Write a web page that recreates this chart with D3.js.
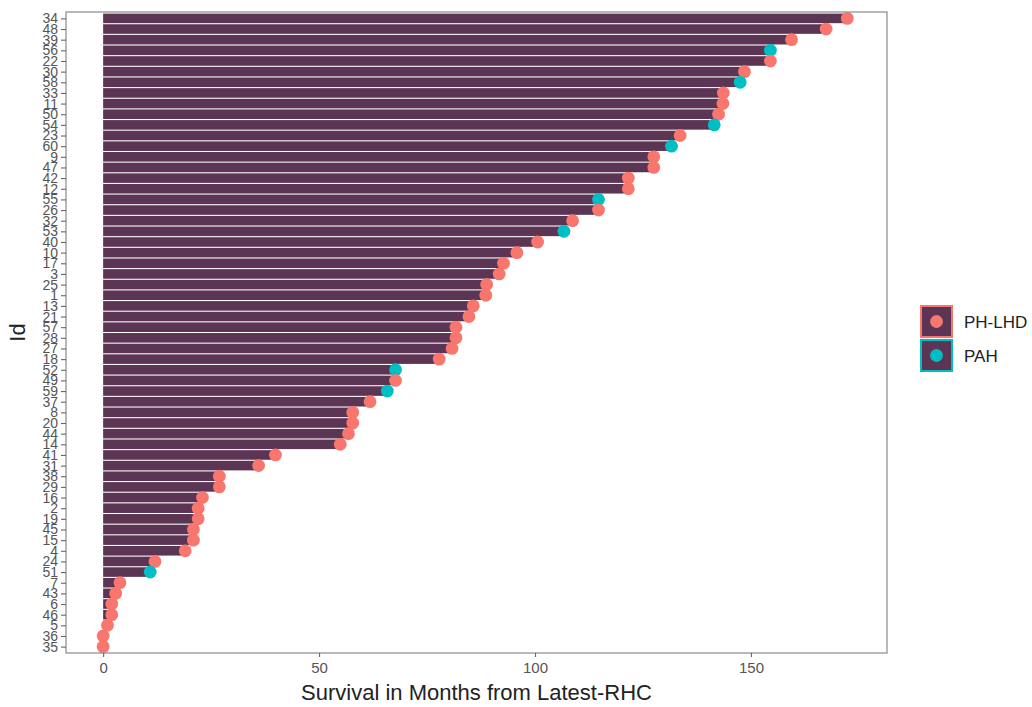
<!DOCTYPE html>
<html>
<head>
<meta charset="utf-8">
<script src="https://cdn.jsdelivr.net/npm/d3@7"></script>
<style>
  html, body { margin: 0; padding: 0; background: #fff; }
  svg { display: block; font-family: "Liberation Sans", Arial, sans-serif; }
</style>
</head>
<body>
<svg id="chart" width="1032" height="707"></svg>
<script>
// ---- data (top to bottom as in the reference) ----
const ids = [34,48,39,56,22,30,58,33,11,50,54,23,60,9,47,42,12,55,26,32,
             53,40,10,17,3,25,1,13,21,57,28,27,18,52,49,59,37,8,20,44,
             14,41,31,38,29,16,2,19,45,15,4,24,51,7,43,6,46,5,36,35];
const months = [172.3,167.4,159.4,154.5,154.5,148.5,147.5,143.6,143.5,142.5,
                141.5,133.6,131.6,127.5,127.5,121.6,121.6,114.7,114.7,108.7,
                106.7,100.6,95.8,92.7,91.7,88.8,88.6,85.7,84.7,81.7,
                81.7,80.8,77.8,67.7,67.7,65.8,61.8,57.8,57.8,56.8,
                54.9,39.9,36.0,26.9,26.9,23.0,22.0,22.0,20.9,20.9,
                19.0,12.0,10.9,3.9,2.9,2.0,2.0,1.0,0,0];
const groups = ["PH-LHD","PH-LHD","PH-LHD","PAH","PH-LHD","PH-LHD","PAH","PH-LHD","PH-LHD","PH-LHD",
                "PAH","PH-LHD","PAH","PH-LHD","PH-LHD","PH-LHD","PH-LHD","PAH","PH-LHD","PH-LHD",
                "PAH","PH-LHD","PH-LHD","PH-LHD","PH-LHD","PH-LHD","PH-LHD","PH-LHD","PH-LHD","PH-LHD",
                "PH-LHD","PH-LHD","PH-LHD","PAH","PH-LHD","PAH","PH-LHD","PH-LHD","PH-LHD","PH-LHD",
                "PH-LHD","PH-LHD","PH-LHD","PH-LHD","PH-LHD","PH-LHD","PH-LHD","PH-LHD","PH-LHD","PH-LHD",
                "PH-LHD","PH-LHD","PAH","PH-LHD","PH-LHD","PH-LHD","PH-LHD","PH-LHD","PH-LHD","PH-LHD"];
const groupNames = ["PH-LHD","PAH"];
const xTicks = [0,50,100,150];
const xTitle = "Survival in Months from Latest-RHC";
const yTitle = "Id";

const data = ids.map((id,i) => ({id: String(id), v: months[i], g: groups[i]}));

// ---- layout ----
const P = {left: 66, right: 887, top: 12, bottom: 653};
const barColor = "#5b3553";
const color = d3.scaleOrdinal().domain(groupNames).range(["#F8766D","#00BFC4"]);

const svg = d3.select("#chart");

const x = d3.scaleLinear().domain([-8.6, 181.5]).range([P.left, P.right]);
const y = d3.scalePoint().domain(data.map(d => d.id)).range([P.top, P.bottom]).padding(0.6);
const step = y.step();
const bh = step * 0.9;

// bars
svg.append("g").selectAll("rect").data(data.filter(d => d.v > 0)).join("rect")
  .attr("x", x(0))
  .attr("y", d => y(d.id) - bh/2)
  .attr("width", d => x(d.v) - x(0))
  .attr("height", bh)
  .attr("fill", barColor);

// points
svg.append("g").selectAll("circle").data(data).join("circle")
  .attr("cx", d => x(d.v))
  .attr("cy", d => y(d.id))
  .attr("r", 6.4)
  .attr("fill", d => color(d.g));

// panel border
svg.append("rect")
  .attr("x", P.left).attr("y", P.top)
  .attr("width", P.right - P.left).attr("height", P.bottom - P.top)
  .attr("fill", "none").attr("stroke", "#8a8a8a").attr("stroke-width", 1.2);

// axes
const xAxis = svg.append("g").attr("transform", `translate(0,${P.bottom})`)
  .call(d3.axisBottom(x).tickValues(xTicks).tickSize(4).tickPadding(5).tickFormat(d3.format("d")));
const yAxis = svg.append("g").attr("transform", `translate(${P.left},0)`)
  .call(d3.axisLeft(y).tickSize(5).tickPadding(3));
[xAxis, yAxis].forEach(a => {
  a.select(".domain").remove();
  a.selectAll(".tick line").attr("stroke", "#666").attr("stroke-width", 1.1);
  a.selectAll(".tick text").attr("fill", "#555").attr("font-family", "Liberation Sans, Arial, sans-serif");
});
xAxis.selectAll(".tick text").attr("font-size", 15);
yAxis.selectAll(".tick text").attr("font-size", 14);

// axis titles
svg.append("text")
  .attr("x", (P.left + P.right)/2 ).attr("y", 700)
  .attr("text-anchor", "middle").attr("font-size", 22).attr("fill", "#222")
  .text(xTitle);
svg.append("text")
  .attr("transform", `translate(25,${(P.top + P.bottom)/2}) rotate(-90)`)
  .attr("text-anchor", "middle").attr("font-size", 22).attr("fill", "#222")
  .text(yTitle);

// legend
const leg = svg.append("g").attr("transform", "translate(920,305)");
const ks = 33;
groupNames.forEach((g, i) => {
  const gg = leg.append("g").attr("transform", `translate(0,${i*ks + i*1})`);
  gg.append("rect").attr("x", 1).attr("y", 1).attr("width", ks-2).attr("height", ks-2)
    .attr("fill", barColor).attr("stroke", color(g)).attr("stroke-width", 2);
  gg.append("circle").attr("cx", ks/2).attr("cy", ks/2).attr("r", 6.4).attr("fill", color(g));
  gg.append("text").attr("x", 44).attr("y", ks/2).attr("dy", "0.36em")
    .attr("font-size", 17).attr("fill", "#222").text(g);
});
</script>
</body>
</html>
